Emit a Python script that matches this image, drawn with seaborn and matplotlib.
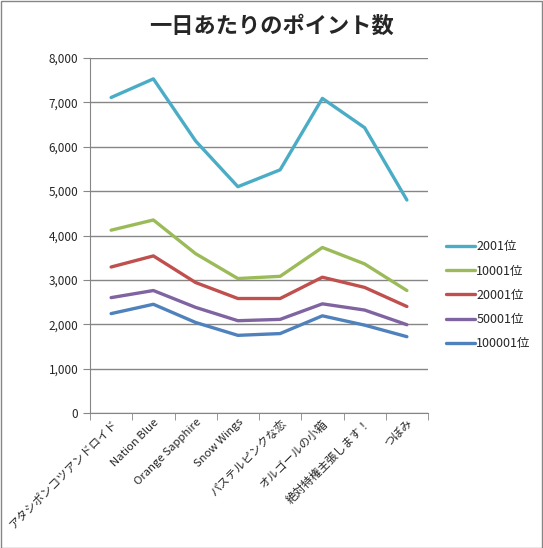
import matplotlib
matplotlib.use("Agg")
import matplotlib.pyplot as plt
import matplotlib.ticker as mticker
from matplotlib.patches import Rectangle
import pandas as pd
import seaborn as sns

categories = ["アタシポンコツアンドロイド", "Nation Blue", "Orange Sapphire", "Snow Wings",
              "パステルピンクな恋", "オルゴールの小箱", "絶対特権主張します！", "つぼみ"]
series_names = ["2001位", "10001位", "20001位", "50001位", "100001位"]
rank_2001 = [7110, 7530, 6130, 5100, 5480, 7090, 6430, 4800]
rank_10001 = [4120, 4350, 3590, 3030, 3080, 3730, 3360, 2760]
rank_20001 = [3290, 3540, 2940, 2580, 2580, 3060, 2830, 2400]
rank_50001 = [2600, 2760, 2380, 2080, 2110, 2460, 2320, 1990]
rank_100001 = [2240, 2450, 2040, 1750, 1790, 2190, 1980, 1720]
colors = ["#4BACC6", "#9BBB59", "#C0504D", "#8064A2", "#4F81BD"]

sns.set_style("white")
plt.rcParams["font.family"] = ["Noto Sans CJK JP", "DejaVu Sans"]

rows = []
for name, vals in zip(series_names, [rank_2001, rank_10001, rank_20001, rank_50001, rank_100001]):
    for i, v in enumerate(vals):
        rows.append({"pos": i, "series": name, "points": v})
df = pd.DataFrame(rows)

fig = plt.figure(figsize=(5.43, 5.48), dpi=100)
ax = fig.add_axes([90 / 543, 1 - 413 / 548, 338 / 543, 355 / 548])

sns.lineplot(data=df, x="pos", y="points", hue="series", hue_order=series_names,
             palette=colors, linewidth=2.4, ax=ax, legend=False)

grid_c = "#868686"
ax.set_xlim(-0.5, len(categories) - 0.5)
ax.set_ylim(0, 8000)
ax.yaxis.set_major_locator(mticker.MultipleLocator(1000))
ax.yaxis.set_major_formatter(mticker.FuncFormatter(lambda v, p: f"{int(v):,}"))
ax.grid(axis="y", color=grid_c, linewidth=1)
ax.set_axisbelow(True)

ax.set_xticks(range(len(categories)))
ax.set_xticklabels(categories, rotation=45, ha="right", rotation_mode="anchor", fontsize=8.2)
ax.set_xticks([i - 0.5 for i in range(len(categories) + 1)], minor=True)
ax.tick_params(axis="x", which="major", length=0, pad=3)
ax.tick_params(axis="x", which="minor", length=5, color=grid_c, direction="out", bottom=True)
ax.tick_params(axis="y", length=5, color=grid_c, direction="out", left=True, labelsize=8.5)

for s in ["top", "right"]:
    ax.spines[s].set_visible(False)
for s in ["left", "bottom"]:
    ax.spines[s].set_color(grid_c)
ax.set_xlabel("")
ax.set_ylabel("")

fig.suptitle("一日あたりのポイント数", x=0.5, y=1 - 26 / 548, va="center",
             fontsize=16, fontweight="bold")

handles = [plt.Line2D([], [], color=c, linewidth=2.4) for c in colors]
fig.legend(handles, series_names, loc="upper left", bbox_to_anchor=(435 / 543, 1 - 229 / 548),
           frameon=False, fontsize=9, handlelength=2.3, labelspacing=0.9, handletextpad=0.1)

fig.patches.append(Rectangle((0.5 / 543, 0.5 / 548), 1 - 1.5 / 543, 1 - 1.5 / 548,
                             transform=fig.transFigure, fill=False, edgecolor=grid_c, linewidth=1))

fig.savefig("out.png", dpi=100)
